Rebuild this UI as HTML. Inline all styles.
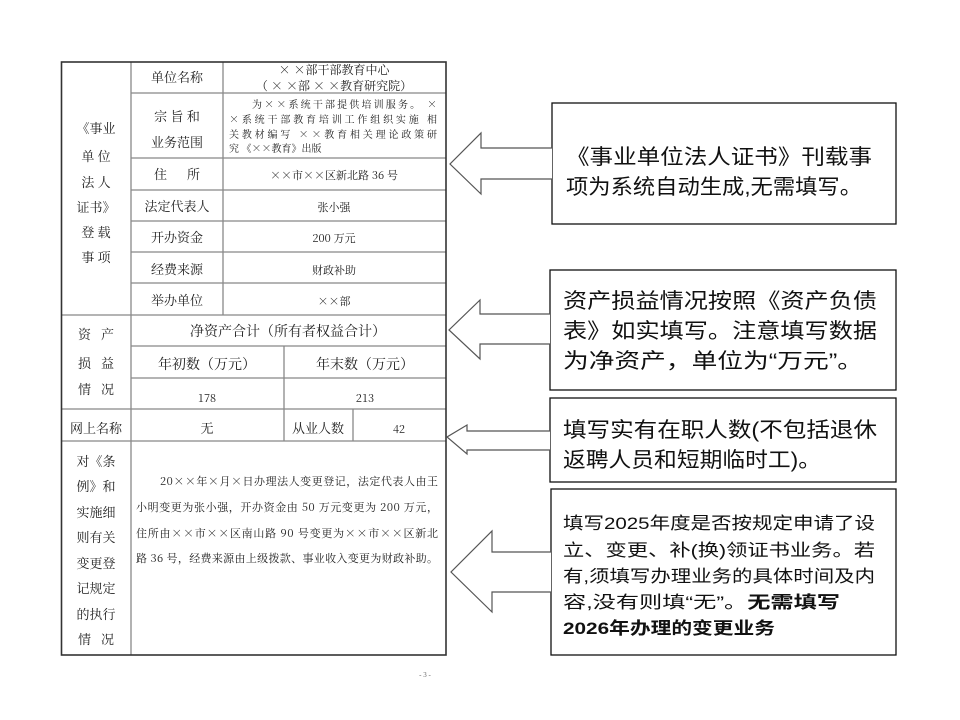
<!DOCTYPE html>
<html><head><meta charset="utf-8"><style>
html,body{margin:0;padding:0;background:#fff;}
svg{display:block;}
.t{font-family:"Noto Serif CJK SC","Liberation Serif",serif;fill:#222;}
.b{font-family:"Liberation Sans","Noto Sans CJK SC",sans-serif;fill:#111;}
</style></head><body>
<svg width="960" height="720" viewBox="0 0 960 720" xmlns="http://www.w3.org/2000/svg">
<rect width="960" height="720" fill="#fff"/>
<g stroke="#888" stroke-width="1.3" fill="none">
<line x1="131" y1="62" x2="131" y2="655"/>
<line x1="223" y1="62" x2="223" y2="315"/>
<line x1="131" y1="93" x2="446" y2="93"/>
<line x1="131" y1="158" x2="446" y2="158"/>
<line x1="131" y1="190" x2="446" y2="190"/>
<line x1="131" y1="221" x2="446" y2="221"/>
<line x1="131" y1="252" x2="446" y2="252"/>
<line x1="131" y1="283" x2="446" y2="283"/>
<line x1="61" y1="315" x2="446" y2="315"/>
<line x1="131" y1="346" x2="446" y2="346"/>
<line x1="131" y1="378" x2="446" y2="378"/>
<line x1="284" y1="346" x2="284" y2="441"/>
<line x1="61" y1="409" x2="446" y2="409"/>
<line x1="353" y1="409" x2="353" y2="441"/>
<line x1="61" y1="441" x2="446" y2="441"/>
</g>
<rect x="61.5" y="62" width="384.5" height="593" fill="none" stroke="#333" stroke-width="1.6"/>
<g class="t" font-size="13" text-anchor="middle">
<text x="96" y="133">《事业</text><text x="96" y="161">单 位</text><text x="96" y="187">法 人</text>
<text x="96" y="212">证书》</text><text x="96" y="237">登 载</text><text x="96" y="262">事 项</text>
<text x="177" y="82">单位名称</text><text x="177" y="121">宗 旨 和</text><text x="177" y="147">业务范围</text>
<text x="177" y="179">住&#160;&#160;&#160;&#160;&#160;&#160;所</text><text x="177" y="211">法定代表人</text>
<text x="177" y="242">开办资金</text><text x="177" y="274">经费来源</text><text x="177" y="305">举办单位</text>
<text x="334" y="74" font-size="12">× ×部干部教育中心</text>
<text x="334" y="90" font-size="12">（ × ×部 × ×教育研究院）</text>
<text x="334" y="179" font-size="11">××市××区新北路 36 号</text>
<text x="334" y="211" font-size="11">张小强</text>
<text x="334" y="242" font-size="11">200 万元</text>
<text x="334" y="274" font-size="11">财政补助</text>
<text x="334" y="305" font-size="11">××部</text>
<text x="96" y="339">资&#160;&#160;&#160;产</text><text x="96" y="368">损&#160;&#160;&#160;益</text><text x="96" y="394">情&#160;&#160;&#160;况</text>
<text x="288" y="336" font-size="14">净资产合计（所有者权益合计）</text>
<text x="207" y="369" font-size="14">年初数（万元）</text>
<text x="365" y="369" font-size="14">年末数（万元）</text>
<text x="207" y="402" font-size="11">178</text><text x="365" y="402" font-size="11">213</text>
<text x="96" y="433">网上名称</text><text x="207" y="433">无</text><text x="318" y="433">从业人数</text>
<text x="399" y="433" font-size="11">42</text>
<text x="96" y="466">对《条</text><text x="96" y="491">例》和</text><text x="96" y="517">实施细</text>
<text x="96" y="542">则有关</text><text x="96" y="568">变更登</text><text x="96" y="593">记规定</text>
<text x="96" y="619">的执行</text><text x="96" y="644">情&#160;&#160;&#160;况</text>
</g>
<g class="t" font-size="10">
<text x="252" y="108" textLength="185" lengthAdjust="spacing">为××系统干部提供培训服务。 ×</text>
<text x="229" y="123" textLength="208" lengthAdjust="spacing">×系统干部教育培训工作组织实施  相</text>
<text x="229" y="138" textLength="208" lengthAdjust="spacing">关教材编写  ××教育相关理论政策研</text>
<text x="229" y="152">究  《××教育》出版</text>
</g>
<g class="t" font-size="11">
<text x="160" y="485" textLength="278" lengthAdjust="spacing">20××年×月×日办理法人变更登记，法定代表人由王</text>
<text x="136" y="511" textLength="302" lengthAdjust="spacing">小明变更为张小强，开办资金由 50 万元变更为 200 万元，</text>
<text x="136" y="537" textLength="302" lengthAdjust="spacing">住所由××市××区南山路 90 号变更为××市××区新北</text>
<text x="136" y="562" textLength="302" lengthAdjust="spacing">路 36 号，经费来源由上级拨款、事业收入变更为财政补助。</text>
</g>
<text x="425" y="677" font-size="7" fill="#666" text-anchor="middle" font-family="Liberation Serif,serif">- 3 -</text>
<g fill="#fff" stroke="#111" stroke-width="1.3">
<rect x="552" y="103" width="344" height="121"/>
<rect x="550" y="270" width="346" height="120"/>
<rect x="550" y="398" width="346" height="84"/>
<rect x="551" y="489" width="345" height="166"/>
</g>
<g fill="#fff" stroke="#555" stroke-width="1.2">
<polyline points="552,148 481,148 481,133 450,164 481,194 481,179 552,179"/>
<polyline points="550,314 480,314 480,300 449,330 480,359 480,344 550,344"/>
<polyline points="550,431 467,431 467,425 447,437 467,454 467,450 550,450"/>
<polyline points="551,552 492,552 492,531 451,572 492,612 492,592 551,592"/>
</g>
<g class="b" font-size="21">
<text x="566" y="164" textLength="306" lengthAdjust="spacingAndGlyphs">《事业单位法人证书》刊载事</text>
<text x="566" y="194" textLength="296" lengthAdjust="spacingAndGlyphs">项为系统自动生成,无需填写。</text>
<text x="563" y="308" textLength="314" lengthAdjust="spacingAndGlyphs">资产损益情况按照《资产负债</text>
<text x="563" y="338" textLength="314" lengthAdjust="spacingAndGlyphs">表》如实填写。注意填写数据</text>
<text x="563" y="368" textLength="300" lengthAdjust="spacingAndGlyphs">为净资产，单位为“万元”。</text>
<text x="563" y="437" textLength="314" lengthAdjust="spacingAndGlyphs">填写实有在职人数(不包括退休</text>
<text x="563" y="467" textLength="258" lengthAdjust="spacingAndGlyphs">返聘人员和短期临时工)。</text>
</g>
<g class="b" font-size="17">
<text x="563" y="529" textLength="312" lengthAdjust="spacingAndGlyphs">填写2025年度是否按规定申请了设</text>
<text x="563" y="556" textLength="312" lengthAdjust="spacingAndGlyphs">立、变更、补(换)领证书业务。若</text>
<text x="563" y="582" textLength="312" lengthAdjust="spacingAndGlyphs">有,须填写办理业务的具体时间及内</text>
<text x="563" y="608" textLength="277" lengthAdjust="spacingAndGlyphs">容,没有则填“无”。<tspan font-weight="bold">无需填写</tspan></text>
<text x="563" y="634" textLength="212" lengthAdjust="spacingAndGlyphs" font-weight="bold">2026年办理的变更业务</text>
</g>
</svg>
</body></html>
